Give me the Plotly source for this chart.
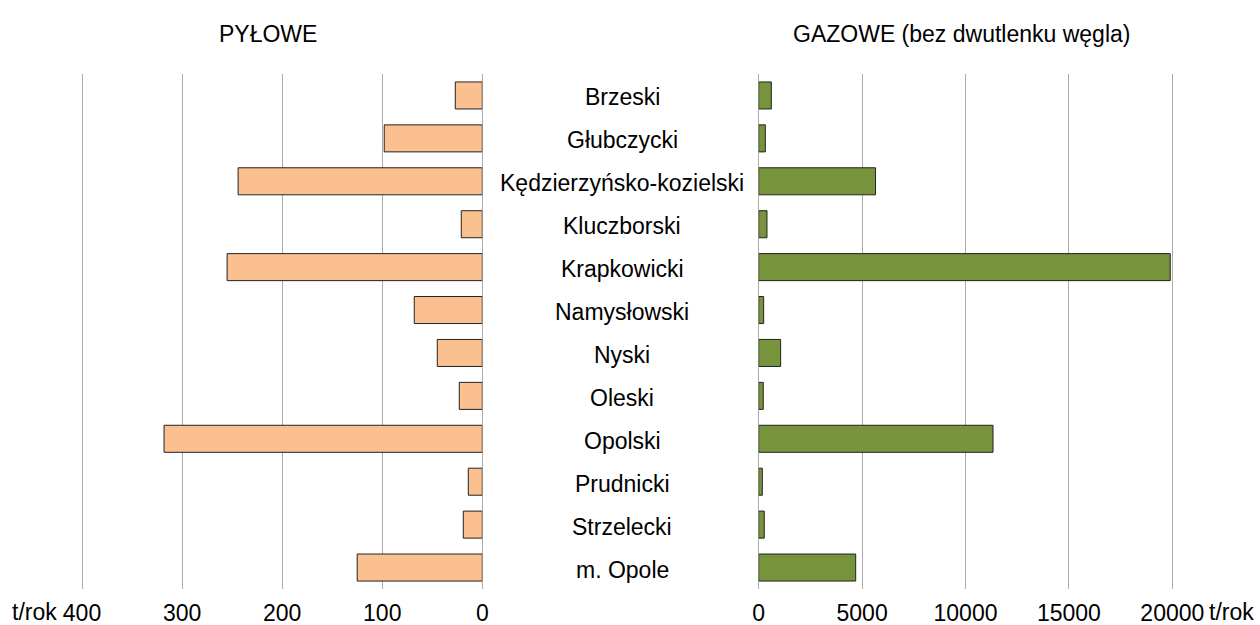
import plotly.graph_objects as go

categories = ["Brzeski", "Głubczycki", "Kędzierzyńsko-kozielski", "Kluczborski",
              "Krapkowicki", "Namysłowski", "Nyski", "Oleski", "Opolski",
              "Prudnicki", "Strzelecki", "m. Opole"]
pylowe = [27, 98, 244, 21, 255, 68, 45, 23, 318, 14, 19, 125]
gazowe = [610, 320, 5650, 400, 19900, 240, 1060, 220, 11330, 175, 270, 4690]
left_ticks = [0, 100, 200, 300, 400]
right_ticks = [0, 5000, 10000, 15000, 20000]
title_left = "PYŁOWE"
title_right = "GAZOWE (bez dwutlenku węgla)"
unit = "t/rok"

FONT = "Liberation Sans, Arial, sans-serif"
FS = 23
GRID = "#ababab"
W, H = 1260, 625
TOP, BOT = 74, 589  # plot area in pixels


def py(ypx):
    return (BOT - ypx) / (BOT - TOP)


fig = go.Figure()
fig.add_trace(go.Bar(y=categories, x=pylowe, orientation="h", xaxis="x", yaxis="y",
                     marker=dict(color="#FAC090", line=dict(color="#222222", width=1)),
                     width=0.63, showlegend=False, hoverinfo="x+y"))
fig.add_trace(go.Bar(y=categories, x=gazowe, orientation="h", xaxis="x2", yaxis="y",
                     marker=dict(color="#77933C", line=dict(color="#222222", width=1)),
                     width=0.63, showlegend=False, hoverinfo="x+y"))

common_x = dict(showgrid=True, gridcolor=GRID, gridwidth=1, zeroline=True,
                zerolinecolor=GRID, zerolinewidth=1, showline=False, ticks="",
                tickfont=dict(family=FONT, size=FS, color="black"),
                ticklabelstandoff=8, fixedrange=True, automargin=False)

fig.update_layout(
    width=W, height=H, autosize=False,
    margin=dict(l=0, r=0, t=TOP, b=H - BOT, pad=0),
    paper_bgcolor="white", plot_bgcolor="white",
    font=dict(family=FONT, size=FS, color="black"),
    xaxis=dict(domain=[80 / W, 482.3 / W], range=[402, 0], tickvals=left_ticks,
               ticktext=[str(v) for v in left_ticks], anchor="y", **common_x),
    xaxis2=dict(domain=[758.7 / W, 1174.4 / W], range=[0, 20100], tickvals=right_ticks,
                ticktext=[str(v) for v in right_ticks], anchor="y", **common_x),
    yaxis=dict(autorange="reversed", showticklabels=False, showgrid=False,
               zeroline=False, showline=False, ticks="", automargin=False,
               fixedrange=True),
    bargap=0.37,
)

annotations = []
for c in categories:
    annotations.append(dict(x=622 / W, xref="paper", y=c, yref="y", text=c,
                            showarrow=False, xanchor="center", yanchor="middle",
                            yshift=-2,
                            font=dict(family=FONT, size=FS, color="black")))
annotations.append(dict(x=268 / W, xref="paper", y=py(34), yref="paper",
                        text=title_left, showarrow=False, xanchor="center",
                        yanchor="middle", font=dict(family=FONT, size=FS)))
annotations.append(dict(x=961.5 / W, xref="paper", y=py(34), yref="paper",
                        text=title_right, showarrow=False, xanchor="center",
                        yanchor="middle", font=dict(family=FONT, size=FS)))
annotations.append(dict(x=34 / W, xref="paper", y=py(612), yref="paper",
                        text=unit, showarrow=False, xanchor="center",
                        yanchor="middle", font=dict(family=FONT, size=FS)))
annotations.append(dict(x=1231 / W, xref="paper", y=py(612), yref="paper",
                        text=unit, showarrow=False, xanchor="center",
                        yanchor="middle", font=dict(family=FONT, size=FS)))
fig.update_layout(annotations=annotations)

fig.write_html("out.html", config={"displayModeBar": False},
               post_script="document.body.style.margin='0';document.body.style.overflow='hidden';")
